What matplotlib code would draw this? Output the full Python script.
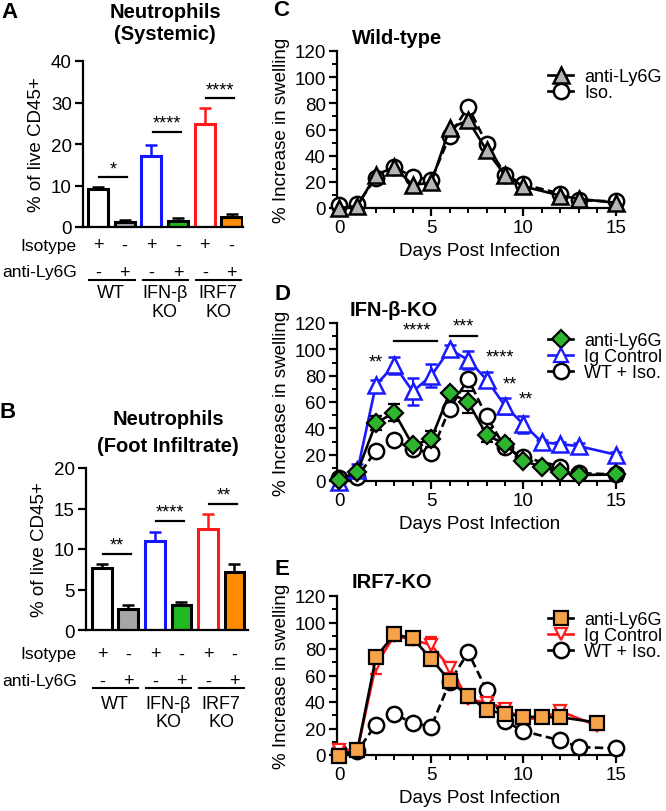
import numpy as np
import matplotlib
matplotlib.use("Agg")
import matplotlib.pyplot as plt
from matplotlib import transforms
from matplotlib.lines import Line2D
from matplotlib.ticker import MultipleLocator

plt.rcParams['font.family'] = ['Liberation Sans', 'DejaVu Sans']
plt.rcParams['axes.linewidth'] = 1.6

# ---- bar chart data (A, B) ----
bar_iso = ['+', '-', '+', '-', '+', '-']
bar_anti = ['-', '+', '-', '+', '-', '+']
groups = ['WT', 'IFN-\u03b2', 'IRF7']
groups_ko = ['', 'KO', 'KO']
bar_edge = ['black', 'black', '#1414ff', 'black', '#ff1a1a', 'black']
bar_fill = ['white', '#a6a6a6', 'white', '#22b822', 'white', '#ff8c00']

sys_vals = [9.1, 1.3, 17.2, 1.5, 24.8, 2.4]
sys_err = [0.6, 0.4, 2.5, 0.6, 3.9, 0.7]
sys_sig = ['*', '****', '****']
sys_sig_y = [12.0, 22.9, 31.0]

foot_vals = [7.7, 2.6, 11.0, 3.1, 12.5, 7.1]
foot_err = [0.4, 0.5, 1.1, 0.4, 1.8, 1.1]
foot_sig = ['**', '****', '**']
foot_sig_y = [9.4, 13.5, 15.6]

# ---- time course data (C, D, E) ----
days_wt = [0, 1, 2, 3, 4, 5, 6, 7, 8, 9, 10, 12, 13, 15]
wt_anti = [0, 1.5, 25.5, 31, 17.5, 19.5, 61, 67, 44, 25, 16.5, 9.5, 7, 4]
wt_iso = [2, 3, 23, 31, 24, 21.5, 55, 77.5, 49, 25.5, 18, 11, 6, 5]

days_ifn = [0, 1, 2, 3, 4, 5, 6, 7, 8, 9, 10, 11, 12, 13, 15]
ifn_anti = [1, 7, 44, 52, 27, 32, 67, 60, 35, 28, 15, 11, 6.5, 4.5, 5]
ifn_anti_err = [1, 2, 5.5, 6.5, 3, 6, 3, 8.5, 5.5, 4, 2, 1.5, 1.5, 1, 1]
ifn_ig = [-1, 8, 73, 88, 68, 80, 100, 92, 77, 57, 43, 29.5, 28, 26.5, 20]
ifn_ig_err = [1, 5, 4, 6.5, 10.5, 8.5, 3, 7, 5.5, 6, 6.5, 2, 2, 2, 2]
ifn_sig = ['**', '****', '***', '****', '**', '**']
ifn_sig_x = [2.0, 4.2, 6.75, 8.7, 9.25, 10.1]
ifn_sig_y = [84, 108, 111, 88, 67, 56]
ifn_sig_lines = [(3.0, 5.3, 106), (6.0, 7.5, 110)]

days_irf = [0, 1, 2, 3, 4, 5, 6, 7, 8, 9, 10, 11, 12, 14]
irf_anti = [-0.5, 3.8, 74, 91, 88, 72.5, 56, 44.5, 34, 31, 29, 28.5, 28.5, 24.5]
irf_anti_err = [1, 1, 2, 2, 4, 2, 2, 2, 2, 2, 2, 1, 1, 1]
irf_ig = [3.5, 4, 68, 90, 87, 83, 66, 42, 39.5, 35, 27, 28, 33, 22]
irf_ig_err = [2, 2, 7, 3, 4, 6, 4, 3, 3, 3, 3, 2, 3, 3]

W, H = 666, 812
fig = plt.figure(figsize=(W / 100, H / 100), dpi=100)


def rect(l, t, r, b):
    return [l / W, 1 - b / H, (r - l) / W, (b - t) / H]


def ftxt(x, y, s, **kw):
    fig.text(x / W, 1 - y / H, s, **kw)


def style(ax):
    for sp in ['top', 'right']:
        ax.spines[sp].set_visible(False)
    ax.tick_params(which='major', direction='out', length=6, width=1.6,
                   labelsize=13.5, pad=2)
    ax.tick_params(which='minor', direction='out', length=3.5, width=1.4)


def bar_panel(ax, vals, err, sig, sig_y, ymax, ystep, xlim, rows_y):
    x = np.arange(len(vals))
    for i in range(len(vals)):
        ax.bar(x[i], vals[i], width=0.75, color=bar_fill[i],
               edgecolor=bar_edge[i], linewidth=2.2, zorder=2)
        ax.errorbar(x[i], vals[i], yerr=[[0], [err[i]]], color=bar_edge[i],
                    capsize=4.5, elinewidth=1.8, capthick=1.8, zorder=1)
    for g in range(3):
        x1, x2 = x[2 * g], x[2 * g + 1]
        ax.plot([x1 + 0.05, x2 + 0.1], [sig_y[g], sig_y[g]], color='black',
                lw=1.6, clip_on=False)
        ax.text((x1 + x2) / 2 + 0.08, sig_y[g], sig[g], ha='center',
                va='bottom', fontsize=13)
    ax.set_xlim(*xlim)
    ax.set_ylim(0, ymax)
    ax.yaxis.set_major_locator(MultipleLocator(ystep))
    ax.set_xticks([])
    style(ax)
    ax.set_ylabel('% of live CD45+', fontsize=13.5, labelpad=4)

    tr = transforms.blended_transform_factory(ax.transData, fig.transFigure)
    yi, ya, yl, yg, yk = [1 - v / H for v in rows_y]
    ftxt(77, rows_y[0], 'Isotype', ha='right', va='center', fontsize=12.5)
    ftxt(77, rows_y[1], 'anti-Ly6G', ha='right', va='center', fontsize=12.5)
    for i in range(len(vals)):
        ax.text(x[i], yi, bar_iso[i], transform=tr, ha='center', va='center',
                fontsize=13)
        ax.text(x[i], ya, bar_anti[i], transform=tr, ha='center', va='center',
                fontsize=13)
    for g in range(3):
        x1, x2 = x[2 * g], x[2 * g + 1]
        ax.plot([x1 - 0.33, x2 + 0.37], [yl, yl], transform=tr, color='black',
                lw=1.5, clip_on=False)
        ax.text((x1 + x2) / 2, yg, groups[g], transform=tr, ha='center',
                va='center', fontsize=13)
        ax.text((x1 + x2) / 2, yk, groups_ko[g], transform=tr, ha='center',
                va='center', fontsize=13)


# ---- A ----
axA = fig.add_axes(rect(83, 62, 243, 228))
bar_panel(axA, sys_vals, sys_err, sys_sig, sys_sig_y, 40, 10, (-0.56, 5.43),
          [246, 273, 281, 294, 313])
ftxt(9, 13, 'A', ha='center', va='center', fontsize=16, fontweight='bold')
ftxt(165, 13, 'Neutrophils', ha='center', va='center', fontsize=14.5,
     fontweight='bold')
ftxt(165, 34, '(Systemic)', ha='center', va='center', fontsize=14.5,
     fontweight='bold')

# ---- B ----
axB = fig.add_axes(rect(86, 469, 248, 631))
bar_panel(axB, foot_vals, foot_err, foot_sig, foot_sig_y, 20, 5, (-0.6, 5.51),
          [655, 682, 689, 705, 723])
ftxt(8, 413, 'B', ha='center', va='center', fontsize=16, fontweight='bold')
ftxt(168, 420, 'Neutrophils', ha='center', va='center', fontsize=14.5,
     fontweight='bold')
ftxt(168, 447, '(Foot Infiltrate)', ha='center', va='center', fontsize=14.5,
     fontweight='bold')


def line_axes(top, bottom):
    ax = fig.add_axes(rect(337, top, 622, bottom))
    ax.set_xlim(-0.11, 15.34)
    ax.set_ylim(0, 120)
    ax.xaxis.set_major_locator(MultipleLocator(5))
    ax.xaxis.set_minor_locator(MultipleLocator(1))
    ax.yaxis.set_major_locator(MultipleLocator(20))
    ax.yaxis.set_minor_locator(MultipleLocator(10))
    style(ax)
    ax.set_xlabel('Days Post Infection', fontsize=13.5, labelpad=4)
    ax.set_ylabel('% Increase in swelling', fontsize=13.5, labelpad=3)
    return ax


def add_legend(ax, handles, labels, top):
    ax.legend(handles, labels, loc='upper left', frameon=False, fontsize=13,
              bbox_to_anchor=(548 / W, 1 - top / H),
              bbox_transform=fig.transFigure, handlelength=1.4,
              handletextpad=0.6, labelspacing=-0.05, borderpad=0,
              borderaxespad=0)


mk = dict(markersize=11, markeredgewidth=1.8, clip_on=False)
dash = (0, (3.2, 1.6))

iso_style = dict(color='black', lw=1.9, ls=dash, marker='o', mfc='white',
                 mec='black')
wt_anti_style = dict(color='black', lw=1.9, marker='^', mfc='#b4b4b4',
                     mec='black')
ifn_ig_style = dict(color='#1a1aff', lw=1.9, marker='^', mfc='white',
                    mec='#1a1aff')
ifn_anti_style = dict(color='black', lw=1.9, marker='D', mfc='#2db52d',
                      mec='black')
irf_ig_style = dict(color='#ff1a1a', lw=1.9, marker='v', mfc='white',
                    mec='#ff1a1a')
irf_anti_style = dict(color='black', lw=1.9, marker='s', mfc='#f5a249',
                      mec='black')

# ---- C ----
axC = line_axes(52, 209)
axC.plot(days_wt, wt_iso, zorder=3, **iso_style, **mk)
axC.plot(days_wt, wt_anti, zorder=4, **wt_anti_style, **mk)
add_legend(axC,
           [Line2D([], [], markersize=11, markeredgewidth=1.8, **wt_anti_style),
            Line2D([], [], markersize=11, markeredgewidth=1.8,
                   **dict(iso_style, ls='-'))],
           ['anti-Ly6G', 'Iso.'], 69)
ftxt(281, 10, 'C', ha='center', va='center', fontsize=16, fontweight='bold')
ftxt(352, 39, 'Wild-type', ha='left', va='center', fontsize=14.5,
     fontweight='bold')

# ---- D ----
axD = line_axes(324, 482)
axD.plot(days_wt, wt_iso, zorder=3, **iso_style, **mk)
axD.errorbar(days_ifn, ifn_ig, yerr=ifn_ig_err, capsize=4.5, elinewidth=1.5,
             capthick=1.5, zorder=4, **ifn_ig_style, **mk)
axD.errorbar(days_ifn, ifn_anti, yerr=ifn_anti_err, capsize=4.5,
             elinewidth=1.5, capthick=1.5, zorder=5, markersize=9,
             markeredgewidth=1.6, clip_on=False, **ifn_anti_style)
for s, sx, sy in zip(ifn_sig, ifn_sig_x, ifn_sig_y):
    axD.text(sx, sy, s, ha='center', va='bottom', fontsize=13)
for x1, x2, yy in ifn_sig_lines:
    axD.plot([x1, x2], [yy, yy], color='black', lw=1.6, clip_on=False)
add_legend(axD,
           [Line2D([], [], markersize=9, markeredgewidth=1.6, **ifn_anti_style),
            Line2D([], [], markersize=10, markeredgewidth=1.6, **ifn_ig_style),
            Line2D([], [], markersize=11, markeredgewidth=1.8,
                   **dict(iso_style, ls='-'))],
           ['anti-Ly6G', 'Ig Control', 'WT + Iso.'], 333)
ftxt(282, 295, 'D', ha='center', va='center', fontsize=16, fontweight='bold')
ftxt(350, 311, 'IFN-\u03b2-KO', ha='left', va='center', fontsize=14.5,
     fontweight='bold')

# ---- E ----
axE = line_axes(597, 756)
axE.plot(days_wt, wt_iso, zorder=3, **iso_style, **mk)
axE.errorbar(days_irf, irf_ig, yerr=irf_ig_err, capsize=4.5, elinewidth=1.5,
             capthick=1.5, zorder=4, markersize=9, markeredgewidth=1.6,
             clip_on=False, **irf_ig_style)
axE.errorbar(days_irf, irf_anti, yerr=irf_anti_err, capsize=4.5,
             elinewidth=1.5, capthick=1.5, zorder=5, markersize=10,
             markeredgewidth=1.6, clip_on=False, **irf_anti_style)
add_legend(axE,
           [Line2D([], [], markersize=10, markeredgewidth=1.6, **irf_anti_style),
            Line2D([], [], markersize=9, markeredgewidth=1.6, **irf_ig_style),
            Line2D([], [], markersize=11, markeredgewidth=1.8,
                   **dict(iso_style, ls='-'))],
           ['anti-Ly6G', 'Ig Control', 'WT + Iso.'], 612)
ftxt(282, 570, 'E', ha='center', va='center', fontsize=16, fontweight='bold')
ftxt(352, 583, 'IRF7-KO', ha='left', va='center', fontsize=14.5,
     fontweight='bold')

fig.savefig('out.png', dpi=100)
